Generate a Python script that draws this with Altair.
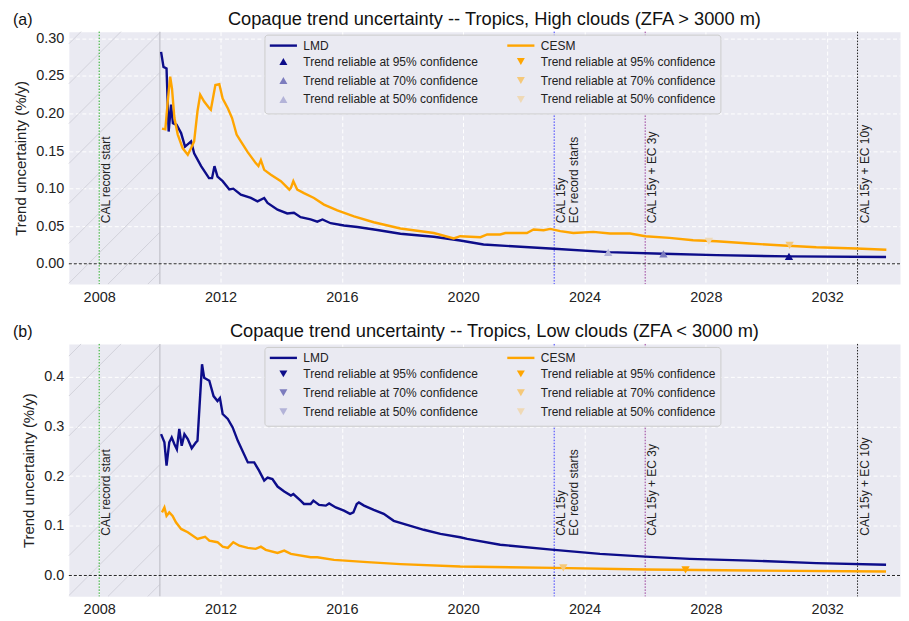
import altair as alt
import pandas as pd

# ---------------- data ----------------
LMD_HIGH_X = [2010.04, 2010.12, 2010.22, 2010.29, 2010.37, 2010.43, 2010.55, 2010.70, 2010.83, 2011.03,
              2011.13, 2011.36, 2011.62, 2011.72, 2011.80, 2011.90, 2012.07, 2012.29, 2012.42, 2012.67,
              2013.00, 2013.22, 2013.44, 2013.55, 2013.88, 2014.20, 2014.42, 2014.64, 2014.97, 2015.19,
              2015.36, 2015.63, 2016.07, 2016.51, 2017.17, 2017.93, 2019.03, 2019.90, 2020.67, 2023.00,
              2024.78, 2026.60, 2028.35, 2030.74, 2033.94]
LMD_HIGH_Y = [0.282, 0.262, 0.260, 0.176, 0.212, 0.187, 0.185, 0.174, 0.156, 0.163,
              0.147, 0.130, 0.114, 0.114, 0.130, 0.116, 0.110, 0.099, 0.100, 0.092,
              0.0876, 0.083, 0.0876, 0.081, 0.072, 0.067, 0.068, 0.062, 0.059, 0.056,
              0.059, 0.054, 0.051, 0.049, 0.045, 0.040, 0.036, 0.031, 0.0257, 0.020,
              0.0155, 0.0133, 0.0115, 0.0098, 0.009]

CESM_HIGH_X = [2010.07, 2010.18, 2010.26, 2010.34, 2010.40, 2010.48, 2010.59, 2010.75, 2010.92, 2011.03,
               2011.13, 2011.24, 2011.33, 2011.46, 2011.63, 2011.68, 2011.83, 2011.96, 2012.07, 2012.24,
               2012.38, 2012.53, 2012.67, 2012.89, 2013.16, 2013.25, 2013.33, 2013.44, 2013.66, 2013.99,
               2014.27, 2014.32, 2014.40, 2014.53, 2014.75, 2015.08, 2015.41, 2015.85, 2016.40, 2017.05,
               2017.93, 2019.03, 2019.69, 2019.90, 2020.57, 2020.79, 2021.22, 2021.39, 2022.10, 2022.32,
               2022.65, 2022.87, 2023.20, 2023.63, 2024.29, 2024.84, 2025.50, 2026.00, 2026.80, 2027.58,
               2028.35, 2029.45, 2030.55, 2031.64, 2032.96, 2033.95]
CESM_HIGH_Y = [0.180, 0.179, 0.216, 0.249, 0.233, 0.194, 0.172, 0.154, 0.145, 0.154,
               0.163, 0.203, 0.225, 0.216, 0.207, 0.205, 0.238, 0.239, 0.220, 0.207,
               0.194, 0.172, 0.163, 0.149, 0.134, 0.130, 0.138, 0.125, 0.1186, 0.110,
               0.0987, 0.101, 0.110, 0.0987, 0.094, 0.0875, 0.0788, 0.071, 0.063, 0.0553,
               0.047, 0.041, 0.0337, 0.0367, 0.0354, 0.039, 0.039, 0.041, 0.041, 0.0456,
               0.0447, 0.0464, 0.0434, 0.041, 0.0424, 0.0403, 0.0403, 0.0367, 0.0345, 0.0314,
               0.030, 0.027, 0.0244, 0.022, 0.0204, 0.0186]

LMD_LOW_X = [2010.04, 2010.15, 2010.22, 2010.31, 2010.39, 2010.48, 2010.56, 2010.64, 2010.72, 2010.81,
             2010.92, 2011.05, 2011.19, 2011.24, 2011.39, 2011.46, 2011.63, 2011.77, 2011.90, 2011.98,
             2012.07, 2012.24, 2012.40, 2012.57, 2012.90, 2013.11, 2013.27, 2013.44, 2013.55, 2013.71,
             2013.88, 2014.10, 2014.32, 2014.40, 2014.64, 2014.75, 2014.97, 2015.06, 2015.25, 2015.47,
             2015.58, 2015.80, 2016.07, 2016.27, 2016.38, 2016.49, 2016.56, 2016.73, 2017.05, 2017.38,
             2017.71, 2018.26, 2018.70, 2019.25, 2019.90, 2020.13, 2021.22, 2023.00, 2024.51, 2026.00,
             2027.47, 2029.45, 2031.64, 2033.94]
LMD_LOW_Y = [0.2845, 0.268, 0.221, 0.268, 0.278, 0.264, 0.254, 0.295, 0.261, 0.2845,
             0.2745, 0.256, 0.268, 0.271, 0.425, 0.398, 0.392, 0.361, 0.351, 0.357,
             0.325, 0.315, 0.298, 0.271, 0.2276, 0.2276, 0.211, 0.191, 0.197, 0.194,
             0.179, 0.169, 0.161, 0.164, 0.1506, 0.144, 0.144, 0.1506, 0.142, 0.1406,
             0.145, 0.137, 0.1305, 0.124, 0.127, 0.144, 0.147, 0.1406, 0.132, 0.124,
             0.110, 0.100, 0.092, 0.0837, 0.077, 0.0736, 0.062, 0.0516, 0.0435, 0.038,
             0.0335, 0.030, 0.0248, 0.0215]

CESM_LOW_X = [2010.07, 2010.15, 2010.22, 2010.31, 2010.42, 2010.53, 2010.70, 2010.92, 2011.24, 2011.49,
              2011.63, 2011.90, 2012.07, 2012.24, 2012.42, 2012.62, 2012.90, 2013.16, 2013.33, 2013.49,
              2013.88, 2014.10, 2014.32, 2014.97, 2015.19, 2015.74, 2016.84, 2017.93, 2019.90, 2023.00,
              2026.00, 2029.45, 2033.94]
CESM_LOW_Y = [0.127, 0.137, 0.120, 0.127, 0.120, 0.107, 0.0937, 0.087, 0.0736, 0.078,
              0.070, 0.067, 0.058, 0.0556, 0.067, 0.060, 0.0556, 0.0536, 0.058, 0.0516,
              0.0455, 0.050, 0.0435, 0.0368, 0.0368, 0.0315, 0.0268, 0.0228, 0.018, 0.0154,
              0.012, 0.010, 0.008]

MARK_HIGH_X = [2024.78, 2026.60, 2030.74, 2028.10, 2030.76]
MARK_HIGH_Y = [0.0152, 0.0133, 0.0098, 0.0300, 0.0244]
MARK_HIGH_KEY = ["LMD_50", "LMD_70", "LMD_95", "CESM_50", "CESM_70"]
MARK_LOW_X = [2023.30, 2027.33]
MARK_LOW_Y = [0.0153, 0.0113]
MARK_LOW_KEY = ["CESM_70", "CESM_95"]

VLINE_X = [2008, 2023, 2026, 2033]
VLINE_LABEL = ["CAL record start", "CAL 15y\nEC record starts", "CAL 15y + EC 3y", "CAL 15y + EC 10y"]
VLINE_COLOR = ["#22aa22", "#3a3aff", "#9a3a9a", "#222222"]

X_TICKS = [2008, 2012, 2016, 2020, 2024, 2028, 2032]
HIGH_Y_TICKS = [0.0, 0.05, 0.10, 0.15, 0.20, 0.25, 0.30]
LOW_Y_TICKS = [0.0, 0.1, 0.2, 0.3, 0.4]

KEYS = ["LMD", "LMD_95", "LMD_70", "LMD_50", "CESM", "CESM_95", "CESM_70", "CESM_50"]
FILL_RANGE = ["transparent", "#0d0d8a", "#7c7cbe", "#b3b3d8",
              "transparent", "#ffa500", "#f5c879", "#efd9b6"]
STROKE_RANGE = ["#0d0d8a", "transparent", "transparent", "transparent",
                "#ffa500", "transparent", "transparent", "transparent"]
LINE_SYM = "M-3.4,0L3.4,0"

# ---------------- layout ----------------
FONT = "Liberation Sans"
W, H = 833, 253
X_DOMAIN = [2007, 2034.4]
HATCH_END = 2010


def hatch_frame(y_domain, spacing=40.0, phase=12.0):
    pxy = W / (X_DOMAIN[1] - X_DOMAIN[0])
    pyu = H / (y_domain[1] - y_domain[0])
    span_w = (HATCH_END - X_DOMAIN[0]) * pxy
    rows = []
    c = -span_w + phase
    while c < H:
        x0 = max(0.0, -c)
        x1 = min(span_w, H - c)
        if x1 > x0:
            rows.append({"x": X_DOMAIN[0] + x0 / pxy, "x2": X_DOMAIN[0] + x1 / pxy,
                         "y": y_domain[0] + (x0 + c) / pyu, "y2": y_domain[0] + (x1 + c) / pyu})
        c += spacing
    return pd.DataFrame(rows)


LEGEND = alt.Legend(
    title=None, orient="none", legendX=196, legendY=3, columns=2, columnPadding=24,
    rowPadding=1, labelFontSize=12, labelFont=FONT, labelColor="#222222", labelLimit=300,
    symbolSize=64, symbolStrokeWidth=2.4, symbolOffset=8, labelOffset=14, padding=5,
    fillColor="#eaeaf2", strokeColor="#cccccc", cornerRadius=3,
    labelExpr="datum.value == 'LMD' || datum.value == 'CESM' ? datum.value : "
              "'Trend reliable at ' + substring(datum.value, indexof(datum.value, '_') + 1) + '% confidence'",
)


def panel(tag, title, lmd_x, lmd_y, cesm_x, cesm_y, mk_x, mk_y, mk_key,
          y_domain, y_ticks, y_fmt, lmd_shape, text_y):
    def X(field):
        return alt.X(field, type="quantitative",
                     scale=alt.Scale(domain=X_DOMAIN, nice=False, zero=False),
                     axis=alt.Axis(values=X_TICKS, format="d", title=None))

    def Y(field):
        return alt.Y(field, type="quantitative",
                     scale=alt.Scale(domain=y_domain, nice=False, zero=False),
                     axis=alt.Axis(values=y_ticks, format=y_fmt, title="Trend uncertainty (%/y)"))

    shape_range = [LINE_SYM, lmd_shape, lmd_shape, lmd_shape,
                   LINE_SYM, "triangle-down", "triangle-down", "triangle-down"]
    fill_scale = alt.Scale(domain=KEYS, range=FILL_RANGE)
    stroke_scale = alt.Scale(domain=KEYS, range=STROKE_RANGE)
    shape_scale = alt.Scale(domain=KEYS, range=shape_range)

    hatch = alt.Chart(hatch_frame(y_domain)).mark_rule(color="#cfcfd8", strokeWidth=0.9).encode(
        x=X("x"), x2="x2", y=Y("y"), y2="y2")

    edge = alt.Chart(pd.DataFrame({"x": [HATCH_END]})).mark_rule(
        color="#c4c4cc", strokeWidth=1.3).encode(x=X("x"))

    vdf = pd.DataFrame({"x": VLINE_X, "c": VLINE_COLOR, "label": VLINE_LABEL,
                        "y": [text_y] * len(VLINE_X)})
    vlines = alt.Chart(vdf).mark_rule(strokeWidth=1, strokeDash=[1.5, 1.5]).encode(
        x=X("x"), color=alt.Color("c:N", scale=None))

    zero = alt.Chart(pd.DataFrame({"y": [0.0]})).mark_rule(
        color="#111111", strokeWidth=0.9, strokeDash=[3, 2]).encode(y=Y("y"))

    ldf = pd.concat([
        pd.DataFrame({"x": lmd_x, "y": lmd_y, "key": "LMD"}),
        pd.DataFrame({"x": cesm_x, "y": cesm_y, "key": "CESM"}),
    ])
    lines = alt.Chart(ldf).mark_line(strokeWidth=2.4).encode(
        x=X("x"), y=Y("y"),
        stroke=alt.Stroke("key:N", scale=stroke_scale, legend=LEGEND))

    mdf = pd.DataFrame({"x": mk_x, "y": mk_y, "key": mk_key})
    marks = alt.Chart(mdf).mark_point(filled=True, size=70, opacity=1).encode(
        x=X("x"), y=Y("y"),
        fill=alt.Fill("key:N", scale=fill_scale, legend=LEGEND),
        stroke=alt.Stroke("key:N", scale=stroke_scale, legend=LEGEND),
        shape=alt.Shape("key:N", scale=shape_scale, legend=LEGEND))

    vtext = alt.Chart(vdf).mark_text(
        angle=270, align="left", baseline="top", dy=2, fontSize=12, font=FONT,
        lineBreak="\n", lineHeight=12.5, color="#222222").encode(
        x=X("x"), y=Y("y"), text="label:N")

    tdf = pd.DataFrame({"title": [title], "tag": [tag]})
    ttl = alt.Chart(tdf).mark_text(
        fontSize=18.3, font=FONT, align="center", baseline="alphabetic", color="#111111").encode(
        x=alt.value(426.5), y=alt.value(-7), text="title:N")
    tg = alt.Chart(tdf).mark_text(
        fontSize=16, font=FONT, align="left", baseline="alphabetic", color="#111111").encode(
        x=alt.value(-56), y=alt.value(-7), text="tag:N")

    return alt.layer(hatch, edge, vlines, zero, lines, marks, vtext, ttl, tg).properties(
        width=W, height=H)


top = panel("(a)", "Copaque trend uncertainty -- Tropics, High clouds (ZFA > 3000 m)",
            LMD_HIGH_X, LMD_HIGH_Y, CESM_HIGH_X, CESM_HIGH_Y,
            MARK_HIGH_X, MARK_HIGH_Y, MARK_HIGH_KEY,
            [-0.027, 0.309], HIGH_Y_TICKS, ".2f", "triangle-up", 0.054)
bottom = panel("(b)", "Copaque trend uncertainty -- Tropics, Low clouds (ZFA < 3000 m)",
               LMD_LOW_X, LMD_LOW_Y, CESM_LOW_X, CESM_LOW_Y,
               MARK_LOW_X, MARK_LOW_Y, MARK_LOW_KEY,
               [-0.042, 0.466], LOW_Y_TICKS, ".1f", "triangle-down", 0.080)

chart = alt.vconcat(top, bottom, spacing=17).resolve_scale(
    x="independent", y="independent", fill="independent", stroke="independent",
    shape="independent", color="independent").resolve_legend(
    fill="independent", stroke="independent", shape="independent").configure(
    font=FONT, padding={"left": 4, "top": 0, "right": 0, "bottom": 4}).configure_view(
    fill="#eaeaf2", stroke="transparent").configure_axis(
    domain=False, ticks=False, grid=True, gridColor="white", gridDash=[4, 2.5], gridWidth=1,
    labelFont=FONT, labelFontSize=14.5, labelColor="#222222",
    titleFont=FONT, titleFontSize=15, titleFontWeight="normal", titleColor="#222222").configure_axisX(
    labelPadding=6).configure_axisY(labelPadding=5, titlePadding=7)

chart.save("out.html", embed_options={"renderer": "svg", "actions": False})
